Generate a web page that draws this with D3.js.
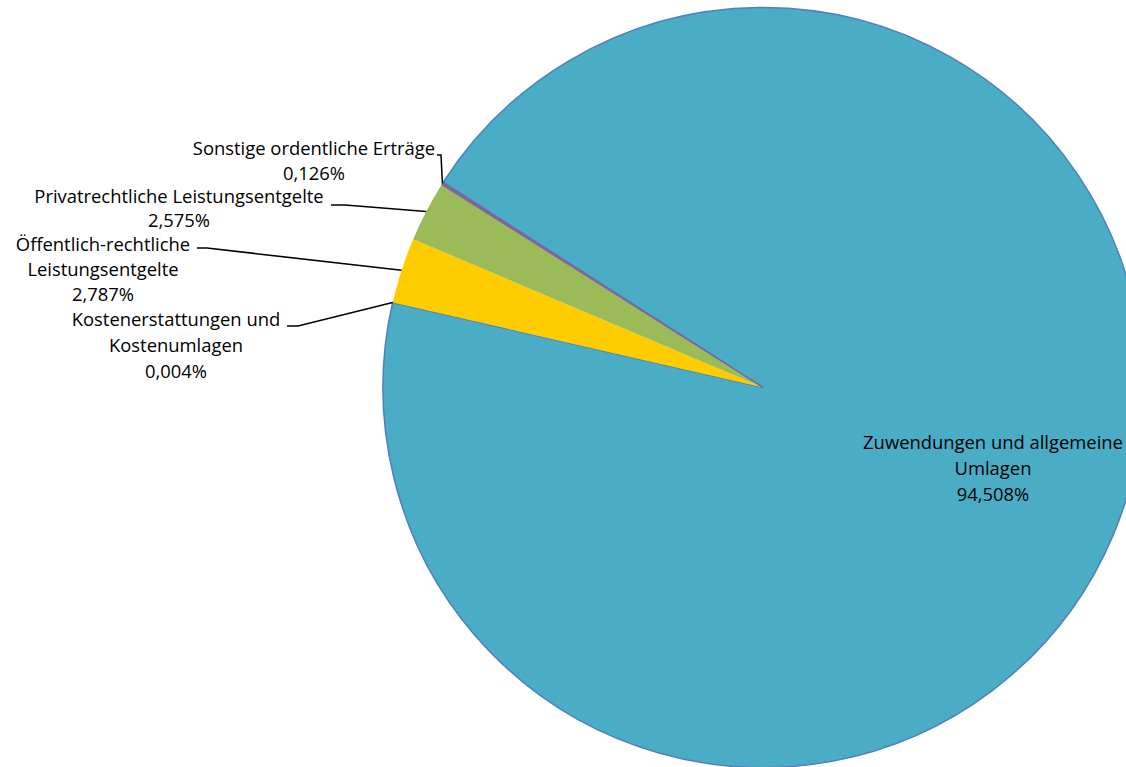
<!DOCTYPE html>
<html>
<head>
<meta charset="utf-8">
<script src="https://cdn.jsdelivr.net/npm/d3@7"></script>
<style>
  html, body { margin: 0; padding: 0; background: #fff; overflow: hidden; }
  svg text { font-family: "Open Sans", Lato, sans-serif; font-size: 18.4px; fill: #000; }
</style>
</head>
<body>
<svg id="chart" width="1126" height="767"></svg>
<script>
// ---- data ----
const categories = [
  "Zuwendungen und allgemeine Umlagen",
  "Kostenerstattungen und Kostenumlagen",
  "Öffentlich-rechtliche Leistungsentgelte",
  "Privatrechtliche Leistungsentgelte",
  "Sonstige ordentliche Erträge"
];
const values = [94.508, 0.004, 2.787, 2.575, 0.126];
const valueLabels = ["94,508%", "0,004%", "2,787%", "2,575%", "0,126%"];
const labelLines = [
  ["Zuwendungen und allgemeine", "Umlagen"],
  ["Kostenerstattungen und", "Kostenumlagen"],
  ["Öffentlich-rechtliche", "Leistungsentgelte"],
  ["Privatrechtliche Leistungsentgelte"],
  ["Sonstige ordentliche Erträge"]
];
const colors = ["#4BACC6", "#4F81BD", "#FFCC00", "#9BBB59", "#8064A2"];

// ---- layout ----
const cx = 763, cy = 387.5, R = 380;
const startDeg = -57.3;
// label block: center x, first baseline, line height, leader start (x,y) + horizontal length (null = inside)
const labelLayout = [
  { x: 993, y: 449, lh: 26, leader: null },
  { x: 176, y: 326, lh: 26, leader: [287, 326, 11] },
  { x: 103, y: 250.5, lh: 25, leader: [197, 248, 10] },
  { x: 179, y: 203, lh: 24, leader: [331, 205, 14] },
  { x: 314, y: 155, lh: 25, leader: [437, 155, 4] }
];

const svg = d3.select("#chart");
const g = svg.append("g").attr("transform", `translate(${cx},${cy})`);

const a0 = startDeg * Math.PI / 180;
const pie = d3.pie().sort(null).value(d => d).startAngle(a0).endAngle(a0 + 2 * Math.PI);
const arcs = pie(values);
const arc = d3.arc().innerRadius(0).outerRadius(R);

g.selectAll("path.slice")
  .data(arcs)
  .join("path")
  .attr("class", "slice")
  .attr("d", arc)
  .attr("fill", (d, i) => colors[i])
  .attr("stroke", (d, i) => (i === 0 || i === 1 || i === 4) ? (i === 4 ? "#8064A2" : "#4F81BD") : "none")
  .attr("stroke-width", (d, i) => i === 0 ? 1.5 : 1)
  .attr("stroke-linejoin", "round");

// leader lines
arcs.forEach((d, i) => {
  const L = labelLayout[i];
  if (!L.leader) return;
  const mid = (d.startAngle + d.endAngle) / 2;
  const ex = cx + R * Math.sin(mid), ey = cy - R * Math.cos(mid);
  const [lx, ly, hl] = L.leader;
  svg.append("polyline")
    .attr("points", `${lx},${ly} ${lx + hl},${ly} ${ex},${ey}`)
    .attr("fill", "none")
    .attr("stroke", "#000")
    .attr("stroke-width", 1.5);
});

// labels
arcs.forEach((d, i) => {
  const L = labelLayout[i];
  const lines = labelLines[i].concat([valueLabels[i]]);
  const t = svg.append("text").attr("text-anchor", "middle");
  lines.forEach((s, k) => {
    t.append("tspan").attr("x", L.x).attr("y", L.y + k * L.lh).text(s);
  });
});
</script>
</body>
</html>
